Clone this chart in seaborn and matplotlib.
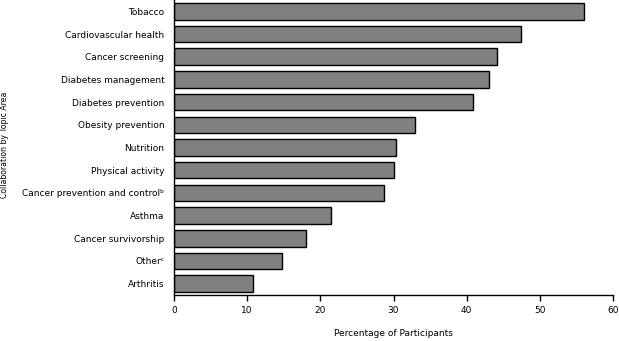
import matplotlib
matplotlib.use("Agg")
import matplotlib.pyplot as plt
import seaborn as sns
import pandas as pd

categories = ["Tobacco", "Cardiovascular health", "Cancer screening", "Diabetes management",
              "Diabetes prevention", "Obesity prevention", "Nutrition", "Physical activity",
              "Cancer prevention and control\u1d47", "Asthma", "Cancer survivorship",
              "Other\u1d9c", "Arthritis"]
values = [56.0, 47.4, 44.1, 43.1, 40.8, 33.0, 30.3, 30.1, 28.7, 21.5, 18.1, 14.7, 10.75]
xticks = [0, 10, 20, 30, 40, 50, 60]

sns.set_style("white")
plt.rcParams['font.family'] = ['DejaVu Sans']
plt.rcParams['text.color'] = 'black'
plt.rcParams['xtick.color'] = 'black'
plt.rcParams['ytick.color'] = 'black'
plt.rcParams['axes.labelcolor'] = 'black'

FS = 6.5
df = pd.DataFrame({"cat": categories, "val": values})
fig = plt.figure(figsize=(6.19, 3.41), dpi=100)
ax = fig.add_axes([174/619, 1 - 295/341, (613-174)/619, 295/341])
sns.barplot(data=df, x="val", y="cat", color="#808080", edgecolor="black",
            linewidth=1.0, width=0.73, saturation=1, ax=ax)
ax.set_xlim(0, 60)
ax.set_ylim(12.5, -0.5)
ax.set_xticks(xticks)
ax.set_xticklabels([str(t) for t in xticks], fontsize=FS)
ax.tick_params(axis="x", length=4, width=1, color="black", pad=4, direction="out", bottom=True)
ax.tick_params(axis="y", length=0, labelsize=FS, pad=7)
for s in ["top", "right"]:
    ax.spines[s].set_visible(False)
for s in ["left", "bottom"]:
    ax.spines[s].set_color("black")
    ax.spines[s].set_linewidth(1)
ax.set_xlabel("")
ax.set_ylabel("")
fig.text(393/619, 1 - 333/341, "Percentage of Participants", fontsize=FS,
         ha="center", va="center")
fig.text(5/619, 1 - 145/341, "Collaboration by Topic Area", rotation=90, fontsize=5.6,
         ha="center", va="center")
fig.savefig("out.png", dpi=100)
